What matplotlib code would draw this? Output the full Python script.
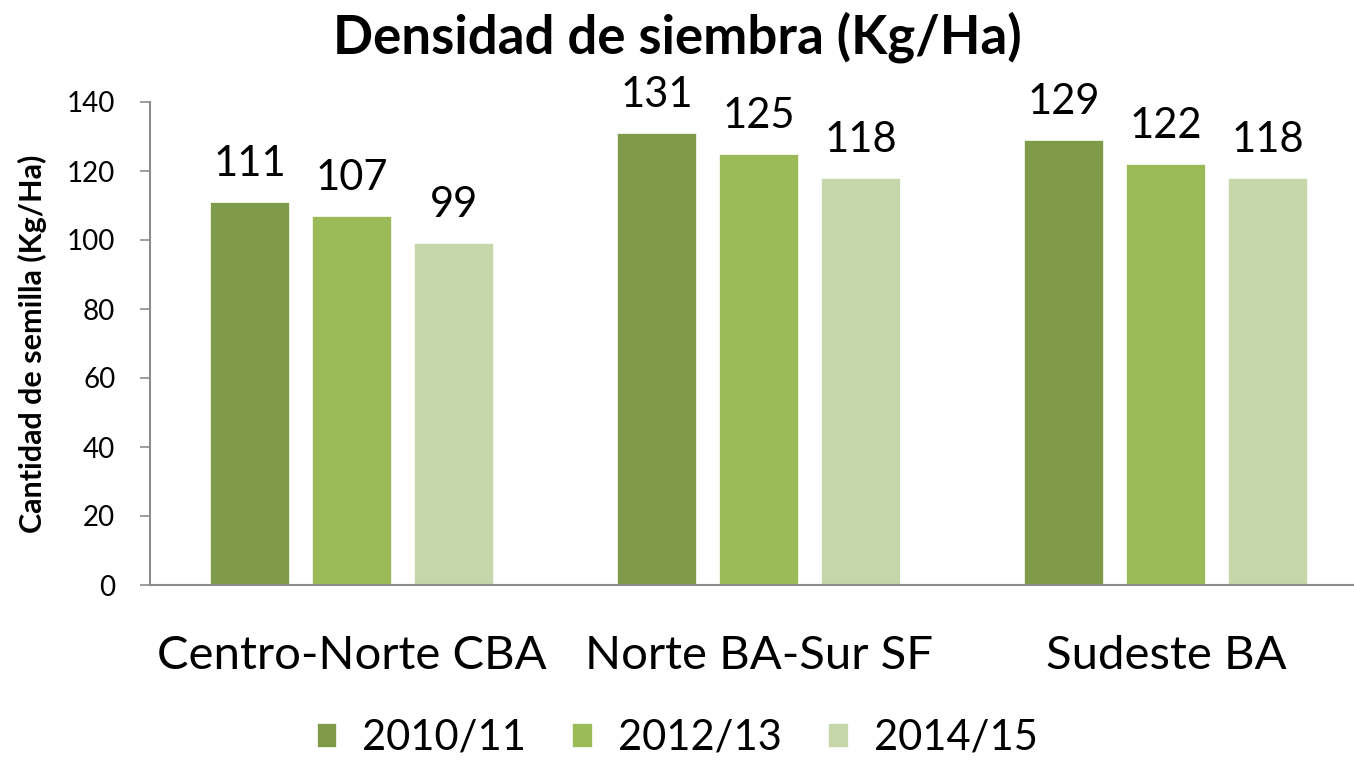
import matplotlib
matplotlib.use("Agg")
import matplotlib.pyplot as plt
import numpy as np

categories = ["Centro-Norte CBA", "Norte BA-Sur SF", "Sudeste BA"]
series_names = ["2010/11", "2012/13", "2014/15"]
values_2010 = [111, 131, 129]
values_2012 = [107, 125, 122]
values_2014 = [99, 118, 118]
yticks = [0, 20, 40, 60, 80, 100, 120, 140]

colors = ["#7F9A48", "#9BBB59", "#C5D6AA"]
series = [values_2010, values_2012, values_2014]

plt.rcParams['font.family'] = ['Lato', 'DejaVu Sans']

fig = plt.figure(figsize=(13.54, 7.61), dpi=100)
W, H = 1354, 761
left_px, right_px = 150, 1354
y0_px, y140_px = 585, 102
ax = fig.add_axes([left_px / W, 1 - y0_px / H, (right_px - left_px) / W, (y0_px - y140_px) / H])

x = np.arange(len(categories))
step = 102 / 407
width = 80 / 407
for i, (vals, name, c) in enumerate(zip(series, series_names, colors)):
    pos = x + (i - 1) * step
    ax.bar(pos, vals, width=width, color=c, edgecolor="white", linewidth=1.2, label=name, zorder=2)
    for p, v in zip(pos, vals):
        ax.text(p, v + 5.5, str(v), ha="center", va="bottom", fontsize=30, color="black")

ax.set_ylim(0, 140)
ax.set_xlim(-0.496, -0.496 + (right_px - left_px) / 407)
ax.set_yticks(yticks)
ax.set_yticklabels([str(t) for t in yticks], fontsize=20)
ax.set_xticks(x)
ax.set_xticklabels(categories, fontsize=34)
ax.tick_params(axis="x", length=0, pad=36)
ax.tick_params(axis="y", length=7, width=1.2, color="#8C8C8C", direction="out", pad=18)
for s in ["top", "right"]:
    ax.spines[s].set_visible(False)
for s in ["left", "bottom"]:
    ax.spines[s].set_color("#8C8C8C")
    ax.spines[s].set_linewidth(1.5)

ax.set_ylabel("Cantidad de semilla (Kg/Ha)", fontsize=22, fontweight="bold")
ax.yaxis.set_label_coords(-103 / (right_px - left_px), 0.5)

fig.text(0.5, 1 - 37 / H, "Densidad de siembra (Kg/Ha)", ha="center", va="center",
         fontsize=38, fontweight="bold")

handles, labels = ax.get_legend_handles_labels()
fig.legend(handles, labels, loc="center", bbox_to_anchor=(0.5, 1 - 738 / H), ncol=3,
           frameon=False, fontsize=30, handlelength=0.5, handleheight=0.55,
           handletextpad=0.6, columnspacing=1.1)

fig.savefig("out.png", dpi=100)
